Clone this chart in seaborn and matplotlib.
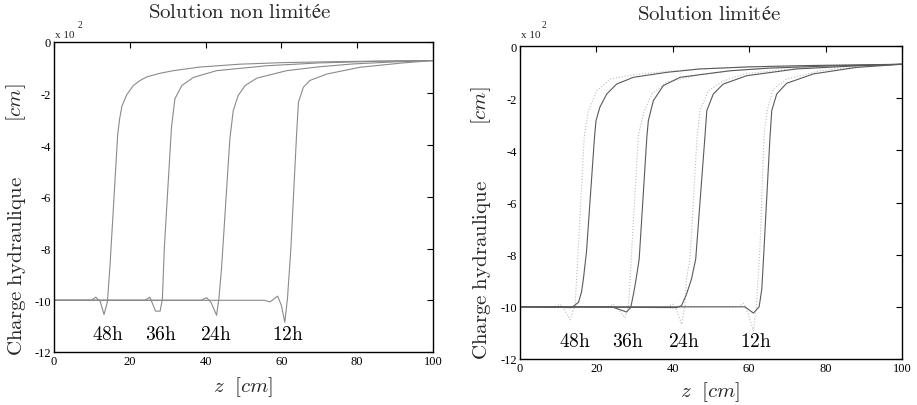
import matplotlib
matplotlib.use("Agg")
import matplotlib.pyplot as plt
import seaborn as sns

# ---------------- data (h in units of 10^2 cm) ----------------
hours = ["48h", "36h", "24h", "12h"]

# Left panel: "Solution non limitée"
L48_z = [0, 9.9, 11.0, 12.2, 13.2, 14.1, 14.8, 16.8, 17.3, 17.9, 19.2, 20.9, 22.7, 24.5, 28.0, 31.5, 38.5, 49.0, 60.0, 75.0, 90.0, 100.0]
L48_h = [-10, -10, -9.88, -10.05, -10.55, -10.05, -8.6, -3.6, -3.0, -2.5, -2.05, -1.7, -1.5, -1.36, -1.22, -1.12, -0.98, -0.87, -0.81, -0.77, -0.74, -0.73]

L36_z = [0, 24.0, 25.3, 26.8, 28.0, 28.6, 29.1, 31.0, 31.9, 33.7, 36.8, 42.9, 56.1, 70.0, 85.0, 100.0]
L36_h = [-10, -10, -9.88, -10.42, -10.42, -9.95, -8.0, -3.3, -2.21, -1.70, -1.38, -1.12, -0.93, -0.82, -0.76, -0.73]

L24_z = [0, 38.8, 40.3, 41.5, 42.9, 43.5, 44.2, 46.4, 47.3, 48.6, 50.4, 53.5, 61.4, 70.0, 78.9, 90.0, 100.0]
L24_h = [-10, -10, -9.9, -10.1, -10.58, -9.95, -8.77, -3.76, -2.66, -2.08, -1.70, -1.41, -1.12, -0.97, -0.86, -0.78, -0.73]

L12_z = [0, 55.5, 57.0, 59.0, 60.0, 60.9, 61.6, 62.5, 64.0, 64.5, 65.8, 67.5, 72.0, 80.7, 92.1, 100.0]
L12_h = [-10, -10, -10.06, -9.84, -10.2, -10.85, -9.93, -8.0, -3.6, -2.34, -1.76, -1.5, -1.25, -0.99, -0.82, -0.73]

# Right panel: "Solution limitée" (solid = limited, dotted = reference)
R48s_z = [0, 13.5, 15.3, 16.1, 16.6, 17.4, 19.5, 19.9, 20.9, 22.7, 25.3, 29.7, 38.4, 47.1, 60.0, 75.0, 100.0]
R48s_h = [-10, -10.03, -9.83, -9.44, -8.93, -7.9, -3.5, -2.86, -2.35, -1.84, -1.46, -1.20, -1.01, -0.88, -0.80, -0.75, -0.70]
R48d_z = [0, 9.0, 10.5, 11.8, 13.1, 14.4, 15.0, 16.8, 17.9, 20.1, 23.6, 29.7, 38.0, 47.1, 60.0, 75.0, 100.0]
R48d_h = [-10, -10, -9.9, -10.15, -10.5, -9.95, -8.5, -3.5, -2.48, -1.71, -1.27, -1.10, -0.98, -0.88, -0.80, -0.75, -0.70]

R36s_z = [0, 24.0, 26.0, 27.9, 29.0, 29.8, 30.4, 31.2, 33.2, 33.6, 34.9, 37.5, 41.9, 47.1, 55.0, 65.0, 80.0, 100.0]
R36s_h = [-10, -10, -10.1, -10.2, -10.02, -9.44, -8.93, -8.17, -3.5, -2.86, -2.10, -1.52, -1.20, -1.10, -0.95, -0.85, -0.77, -0.70]
R36d_z = [0, 23.0, 24.4, 25.8, 27.5, 28.4, 29.1, 31.0, 32.5, 34.5, 38.4, 47.0, 55.0, 65.0, 80.0, 100.0]
R36d_h = [-10, -10, -9.9, -10.1, -10.42, -10.0, -8.2, -3.4, -2.5, -1.84, -1.39, -1.10, -0.95, -0.85, -0.77, -0.70]

R24s_z = [0, 41.0, 42.3, 43.6, 44.9, 46.0, 48.4, 48.9, 50.6, 53.2, 59.3, 72.4, 88.1, 100.0]
R24s_h = [-10, -10.03, -9.95, -9.51, -8.93, -8.17, -3.5, -2.48, -1.84, -1.46, -1.14, -0.88, -0.76, -0.70]
R24d_z = [0, 38.5, 40.1, 41.2, 42.3, 43.2, 43.6, 44.5, 46.3, 47.1, 49.3, 53.2, 59.0, 72.4, 88.1, 100.0]
R24d_h = [-10, -10, -9.9, -10.2, -10.67, -9.95, -8.9, -8.17, -3.6, -2.48, -1.72, -1.34, -1.06, -0.86, -0.76, -0.70]

R12s_z = [0, 58.9, 61.1, 62.6, 63.3, 63.8, 65.4, 65.9, 67.2, 69.8, 76.8, 88.1, 100.0]
R12s_h = [-10, -10, -10.24, -10.0, -9.32, -8.0, -3.6, -2.48, -1.84, -1.43, -1.07, -0.82, -0.70]
R12d_z = [0, 57.0, 58.6, 59.8, 61.1, 61.9, 62.8, 63.9, 64.7, 66.3, 69.8, 78.5, 88.0, 100.0]
R12d_h = [-10, -10, -9.87, -10.3, -10.92, -9.95, -7.79, -3.4, -2.48, -1.65, -1.27, -0.95, -0.80, -0.70]

label_z = [14.3, 28.2, 42.8, 61.8]
label_h = -11.3

xticks = [0, 20, 40, 60, 80, 100]
yticks = [-12, -10, -8, -6, -4, -2, 0]
ytick_labels = ["-12", "-10", "-8", "-6", "-4", "-2", "0"]

# ---------------- style ----------------
sns.set_theme(style="white")
plt.rcParams["font.family"] = ["Liberation Serif", "DejaVu Serif"]
plt.rcParams["mathtext.fontset"] = "cm"

W, H = 917, 406
fig = plt.figure(figsize=(W / 100, H / 100), dpi=100)
fig.patch.set_facecolor("white")

axL = fig.add_axes([54 / W, 1 - 353 / H, (433 - 54) / W, (353 - 42.7) / H])
axR = fig.add_axes([520 / W, 1 - 360 / H, (902 - 520) / W, (360 - 47) / H])

left_curves = [(L48_z, L48_h), (L36_z, L36_h), (L24_z, L24_h), (L12_z, L12_h)]
for z, h in left_curves:
    sns.lineplot(x=z, y=h, ax=axL, color="#8a8a8a", linewidth=0.8,
                 sort=False, estimator=None)

right_dotted = [(R48d_z, R48d_h), (R36d_z, R36d_h), (R24d_z, R24d_h), (R12d_z, R12d_h)]
right_solid = [(R48s_z, R48s_h), (R36s_z, R36s_h), (R24s_z, R24s_h), (R12s_z, R12s_h)]
for z, h in right_dotted:
    sns.lineplot(x=z, y=h, ax=axR, color="#bdbdbd", linewidth=0.8,
                 linestyle=":", sort=False, estimator=None)
for z, h in right_solid:
    sns.lineplot(x=z, y=h, ax=axR, color="#5a5a5a", linewidth=0.8,
                 sort=False, estimator=None)

for ax in (axL, axR):
    ax.set_xlim(0, 100)
    ax.set_ylim(-12, 0)
    ax.set_xticks(xticks)
    ax.set_xticklabels([str(t) for t in xticks])
    ax.set_yticks(yticks)
    ax.set_yticklabels(ytick_labels)
    ax.tick_params(direction="in", length=4, width=0.8, top=True, right=True,
                   labelsize=9, colors="black", pad=2)
    for s in ax.spines.values():
        s.set_visible(True)
        s.set_color("black")
        s.set_linewidth(1.0)
    ax.set_xlabel("")
    ax.set_ylabel("")
    ax.grid(False)
    for lab, zx in zip(hours, label_z):
        ax.text(zx, label_h, r"$\mathrm{" + lab + "}$", ha="center", va="center",
                fontsize=14, color="black")

# titles
fig.text(240 / W, 1 - 14 / H, r"$\mathrm{Solution\ non\ limitée}$",
         ha="center", va="center", fontsize=15)
fig.text(709 / W, 1 - 15 / H, r"$\mathrm{Solution\ limitée}$",
         ha="center", va="center", fontsize=15)

# y labels
for xc, yc1, yc2 in [(17, 266, 103), (482, 270, 106)]:
    fig.text(xc / W, 1 - yc1 / H, r"$\mathrm{Charge\ hydraulique}$", rotation=90,
             ha="center", va="center", fontsize=15)
    fig.text((xc - 1) / W, 1 - yc2 / H, r"$[cm]$", rotation=90,
             ha="center", va="center", fontsize=15)

# x labels
fig.text(243 / W, 1 - 387 / H, r"$z\ \ [cm]$", ha="center", va="center", fontsize=15)
fig.text(710 / W, 1 - 392 / H, r"$z\ \ [cm]$", ha="center", va="center", fontsize=15)

# exponent markers
for x0, x2 in [(55, 78), (521, 542)]:
    fig.text(x0 / W, 1 - 36 / H, "x 10", ha="left", va="center", fontsize=8)
    fig.text(x2 / W, 1 - 25 / H, "2", ha="left", va="center", fontsize=7)

fig.savefig("out.png", dpi=100, facecolor="white")
